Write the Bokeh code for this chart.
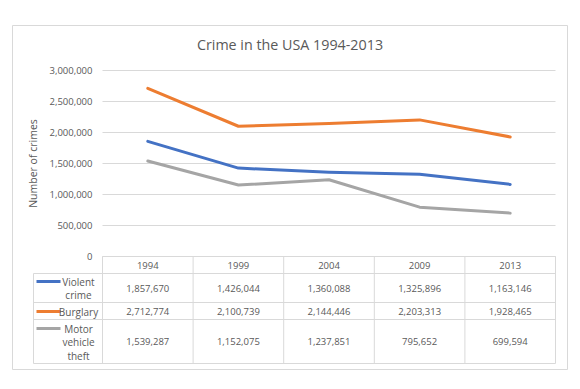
from bokeh.plotting import figure
from bokeh.models import Range1d, FixedTicker, NumeralTickFormatter, ColumnDataSource
from bokeh.embed import file_html
from bokeh.resources import INLINE
from bokeh.core.properties import value

# ---------------- data ----------------
title_text = "Crime in the USA 1994-2013"
y_title = "Number of crimes"
years = ["1994", "1999", "2004", "2009", "2013"]
violent = [1857670, 1426044, 1360088, 1325896, 1163146]
burglary = [2712774, 2100739, 2144446, 2203313, 1928465]
motor = [1539287, 1152075, 1237851, 795652, 699594]
series_labels = [["Violent", "crime"], ["Burglary"], ["Motor", "vehicle", "theft"]]
colors = ["#4472C4", "#ED7D31", "#A5A5A5"]
y_ticks = [0, 500000, 1000000, 1500000, 2000000, 2500000, 3000000]

series = [violent, burglary, motor]

# ---------------- layout constants (page pixels) ----------------
FONT = "Open Sans"
TXT = "#595959"
GRID = "#d9d9d9"
X0, X1 = 102, 555          # plot area left/right
Y0, YTOP = 256, 70         # value 0 and value 3,000,000
PX_X = (X1 - X0) / len(years)
PX_Y = (Y0 - YTOP) / y_ticks[-1]


def xd(px):
    return (px - X0) / PX_X


def yd(py):
    return (Y0 - py) / PX_Y


# frame = outer chart border box
FL, FR, FT, FB = 12, 567, 25, 369
PANEL = 100                      # hidden left panel (shifted off page)
W = 580 + (PANEL - FL)
H = 389

p = figure(width=W, height=H, output_backend="svg", toolbar_location=None,
           x_range=Range1d(xd(FL), xd(FR)), y_range=Range1d(yd(FB), yd(FT)),
           x_axis_type=None,
           min_border_left=PANEL, min_border_right=W - PANEL - (FR - FL),
           min_border_top=FT, min_border_bottom=H - FB,
           margin=(0, 0, 0, -(PANEL - FL)))
p.background_fill_color = "white"
p.border_fill_color = "white"
p.outline_line_color = GRID
p.outline_line_width = 1
p.title.visible = False

ax = p.yaxis[0]
ax.fixed_location = 0
ax.bounds = (y_ticks[0], y_ticks[-1])
ax.ticker = FixedTicker(ticks=y_ticks)
ax.formatter = NumeralTickFormatter(format="0,0")
ax.axis_line_color = None
ax.major_tick_line_color = None
ax.minor_tick_line_color = None
ax.major_tick_out = 0
ax.major_tick_in = 0
ax.minor_tick_out = 0
ax.minor_tick_in = 0
ax.major_label_standoff = 10
ax.major_label_text_font = FONT
ax.major_label_text_font_size = "9.5px"
ax.major_label_text_color = TXT
ax.axis_label = y_title
ax.axis_label_text_font = FONT
ax.axis_label_text_font_size = "10.5px"
ax.axis_label_text_font_style = "normal"
ax.axis_label_text_color = TXT
ax.axis_label_standoff = 7

p.xgrid.visible = False
p.ygrid.visible = False

# gridlines across the plot area only
p.segment(x0=[xd(X0)] * len(y_ticks), y0=y_ticks, x1=[xd(X1)] * len(y_ticks), y1=y_ticks,
          line_color=GRID, line_width=1)

# title
p.text(x=[xd((FL + FR) / 2)], y=[yd(43.5)], text=[title_text], text_align="center",
       text_baseline="middle", text_font=value(FONT), text_font_size="14.3px", text_color=TXT)

xs = [i + 0.5 for i in range(len(years))]

# ---------------- data table grid ----------------
KEY_L = 33
row_edges = [256, 273, 302, 319, 363]
hx0 = [xd(X0)] + [xd(KEY_L)] * (len(row_edges) - 1)
hy = [yd(py) for py in row_edges]
p.segment(x0=hx0, y0=hy, x1=[xd(X1)] * len(hy), y1=hy, line_color=GRID, line_width=1)
vx = [xd(KEY_L)] + [xd(X0) + i for i in range(len(years) + 1)]
vy0 = [yd(273)] + [yd(256)] * (len(years) + 1)
p.segment(x0=vx, y0=vy0, x1=vx, y1=[yd(363)] * len(vx), line_color=GRID, line_width=1)

# ---------------- lines ----------------
for vals, c in zip(series, colors):
    p.line(xs, vals, line_color=c, line_width=3, line_cap="round", line_join="round")

# ---------------- table texts ----------------
hdr = ColumnDataSource(dict(x=xs, y=[yd(264.5)] * len(xs), t=years))
p.text(x="x", y="y", text="t", source=hdr, text_align="center", text_baseline="middle",
       text_font=value(FONT), text_font_size="9.5px", text_color=TXT)

row_centers = [287.5, 310.5, 341]
for vals, rc in zip(series, row_centers):
    src = ColumnDataSource(dict(x=xs, y=[yd(rc)] * len(xs), t=[f"{v:,}" for v in vals]))
    p.text(x="x", y="y", text="t", source=src, text_align="center", text_baseline="middle",
           text_font=value(FONT), text_font_size="9.5px", text_color=TXT)

# legend keys + series names
first_line_y = [281, 311, 328]
line_gap = 13.5
for lines, c, fy in zip(series_labels, colors, first_line_y):
    p.segment(x0=[xd(36)], y0=[yd(fy)], x1=[xd(60)], y1=[yd(fy)], line_color=c, line_width=3)
    ly = [yd(fy + j * line_gap) for j in range(len(lines))]
    p.text(x=[xd(78)] * len(lines), y=ly, text=lines, text_align="center",
           text_baseline="middle", text_font=value(FONT), text_font_size="10px", text_color=TXT)

open("out.html", "w").write(file_html(p, INLINE))
